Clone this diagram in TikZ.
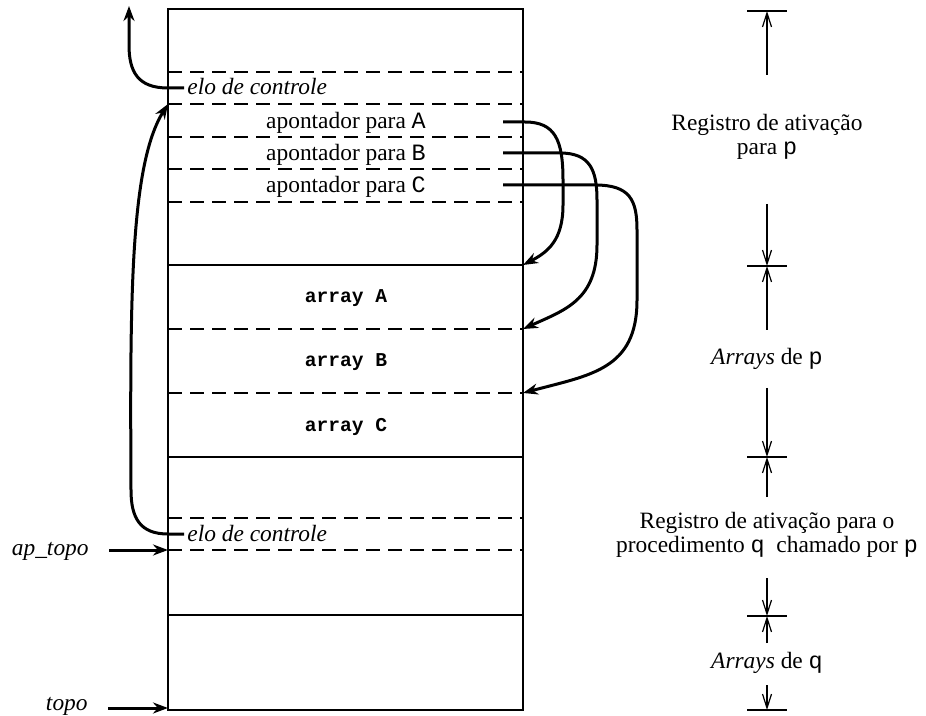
\documentclass[tikz,border=0pt]{standalone}
\usepackage{fontspec}
\setmainfont{Liberation Serif}
\setmonofont{Liberation Mono}
\usetikzlibrary{arrows.meta}

\begin{document}
\begin{tikzpicture}[
  x=0.5pt,y=-0.5pt,
  txt/.style={inner sep=0pt,font=\fontsize{11.7}{12}\selectfont},
  arr/.style={inner sep=0pt,font=\fontsize{9.8}{11}\selectfont\ttfamily\bfseries},
  wall/.style={line width=1.3pt},
  sep/.style={line width=0.6pt,dash pattern=on 7pt off 4pt},
  ptr/.style={-{Stealth[length=7.5pt,width=5.5pt]},line width=1.5pt},
  dim/.style={-{Straight Barb[length=7pt,width=4.5pt]},line width=0.6pt},
  dimtick/.style={line width=0.8pt}
]
\useasboundingbox (0,0) rectangle (926,716);

\draw[wall] (168,9) rectangle (523,710);
\foreach \y in {265,457,615}
  \draw[wall] (168,\y) -- (523,\y);
\foreach \y in {72,104,137,169,202,329,393,518,550}
  \draw[sep] (168,\y) -- (523,\y);

\node[txt,anchor=base west] (elo1) at (187,95) {\itshape elo de controle};
\node[txt,anchor=base] (apA) at (346,129) {apontador para \texttt{A}};
\node[txt,anchor=base] (apB) at (346,161) {apontador para \texttt{B}};
\node[txt,anchor=base] (apC) at (346,193) {apontador para \texttt{C}};
\node[arr,anchor=base] (arrA) at (346,303) {array A};
\node[arr,anchor=base] (arrB) at (346,367) {array B};
\node[arr,anchor=base] (arrC) at (346,431) {array C};
\node[txt,anchor=base west] (elo2) at (187,541) {\itshape elo de controle};
\node[txt,anchor=base east] (aptopo) at (89,555) {\itshape ap\_topo};
\node[txt,anchor=base east] (topo) at (88,710) {\itshape topo};

\coordinate (elo1s) at (184,88);
\coordinate (elo2s) at (184,534);
\coordinate (up) at (129,6);
\coordinate (recp) at (168,104);
\coordinate (ptrA) at (503,122);
\coordinate (ptrB) at (503,153);
\coordinate (ptrC) at (503,185);
\coordinate (rowA) at (523,265);
\coordinate (rowB) at (523,329);
\coordinate (rowC) at (523,393);
\coordinate (aptopos) at (109,550);
\coordinate (aptopoe) at (168,550);
\coordinate (topos) at (108,708);
\coordinate (topoe) at (168,708);

\draw[ptr] (elo1s) -- (168,88) .. controls (138,88) and (129,72) .. (129,45) -- (up);
\draw[ptr] (elo2s) -- (168,534) .. controls (140,534) and (131,518) .. (131,490)
  .. controls (130,300) and (130,165) .. (recp);
\draw[ptr] (ptrA) -- (525,122) .. controls (555,122) and (563,140) .. (563,180)
  -- (563,205) .. controls (563,240) and (548,252) .. (rowA);
\draw[ptr] (ptrB) -- (560,153) .. controls (590,153) and (597,170) .. (597,200)
  -- (597,245) .. controls (597,300) and (565,310) .. (rowB);
\draw[ptr] (ptrC) -- (595,185) .. controls (630,185) and (637,200) .. (637,230)
  -- (637,300) .. controls (637,370) and (590,375) .. (rowC);
\draw[ptr] (aptopos) -- (aptopoe);
\draw[ptr] (topos) -- (topoe);

\node[txt,align=center] (regp) at (767,136.5) {Registro de ativação\\para \texttt{p}};
\node[txt,anchor=base] (arrp) at (767,365) {\textit{Arrays} de \texttt{p}};
\node[txt,align=center] (regq) at (767,534.5) {Registro de ativação para o\\procedimento \texttt{q}\ \ chamado por \texttt{p}};
\node[txt,anchor=base] (arrq) at (767,668) {\textit{Arrays} de \texttt{q}};

\coordinate (d0) at (767,11);
\coordinate (d1) at (767,266);
\coordinate (d2) at (767,457);
\coordinate (d3) at (767,616);
\coordinate (d4) at (767,710);
\foreach \y in {11,266,457,616,710}
  \draw[dimtick] (747,\y) -- (787,\y);
\draw[dim] (767,75) -- (d0);
\draw[dim] (767,204) -- (d1);
\draw[dim] (767,330) -- (d1);
\draw[dim] (767,388) -- (d2);
\draw[dim] (767,497) -- (d2);
\draw[dim] (767,578) -- (d3);
\draw[dim] (767,643) -- (d3);
\draw[dim] (767,685) -- (d4);
\end{tikzpicture}
\end{document}
